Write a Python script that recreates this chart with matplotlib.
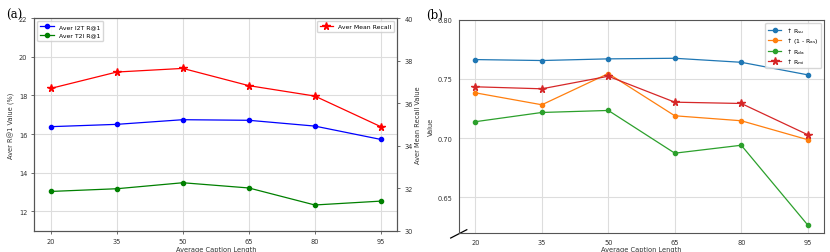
import matplotlib
matplotlib.use("Agg")
import matplotlib.pyplot as plt

# ---- data ----
caption_len = [20, 35, 50, 65, 80, 95]
i2t_r1 = [16.38, 16.50, 16.74, 16.71, 16.41, 15.72]
t2i_r1 = [13.03, 13.17, 13.48, 13.21, 12.33, 12.53]
mean_recall = [36.69, 37.46, 37.63, 36.82, 36.33, 34.89]

r_su = [0.7663, 0.7655, 0.7669, 0.7674, 0.7640, 0.7534]
one_minus_r_as = [0.7382, 0.7281, 0.7545, 0.7188, 0.7146, 0.6986]
r_da = [0.7138, 0.7216, 0.7233, 0.6872, 0.6939, 0.6265]
r_mi = [0.7433, 0.7416, 0.7522, 0.7303, 0.7292, 0.7028]

xticks = [20, 35, 50, 65, 80, 95]

plt.rcParams['font.family'] = ['DejaVu Sans']
plt.rcParams['mathtext.fontset'] = 'dejavusans'
fs = 4.8
lfs = 4.4
spine_c = '#555555'
tick_c = '#333333'
ms_c = 3.0
ms_s = 5.5
lw = 0.9

fig = plt.figure(figsize=(8.3, 2.53), dpi=100)

def style(ax, ticklen=2.5):
    for s in ax.spines.values():
        s.set_color(spine_c)
        s.set_linewidth(0.8)
    ax.tick_params(labelsize=fs, colors=spine_c, labelcolor=tick_c, length=ticklen,
                   width=0.6, pad=2.5)

# ---- panel (a) ----
ax1 = fig.add_axes([0.0413, 0.0842, 0.4374, 0.8407])
ax1.plot(caption_len, i2t_r1, color='blue', marker='o', markersize=ms_c, lw=lw, label='Aver I2T R@1')
ax1.plot(caption_len, t2i_r1, color='green', marker='o', markersize=ms_c, lw=lw, label='Aver T2I R@1')
ax1.set_ylim(11, 22)
ax1.set_yticks([12, 14, 16, 18, 20, 22])
ax1.set_xticks(xticks)
ax1.grid(True, color='#dddddd', lw=0.8)
ax1.set_axisbelow(True)
ax1.set_xlabel('Average Caption Length', fontsize=fs, labelpad=1.5, color=tick_c)
ax1.set_ylabel('Aver R@1 Value (%)', fontsize=fs, color=tick_c)
ax1.yaxis.set_label_coords(-0.053, 0.5)
style(ax1)
ax1.legend(loc='upper left', fontsize=lfs, frameon=True, handlelength=2.2,
           borderpad=0.5, labelspacing=0.5, borderaxespad=0.5)

ax2 = ax1.twinx()
ax2.plot(caption_len, mean_recall, color='red', marker='*', markersize=ms_s, lw=lw, label='Aver Mean Recall')
ax2.set_ylim(30, 40)
ax2.set_yticks([30, 32, 34, 36, 38, 40])
ax2.set_ylabel('Aver Mean Recall Value', fontsize=fs, color=tick_c)
ax2.yaxis.set_label_coords(1.049, 0.5)
style(ax2)
ax2.legend(loc='upper right', fontsize=lfs, frameon=True, handlelength=2.2,
           borderpad=0.5, borderaxespad=0.5)
fig.text(0.007, 0.937, '(a)', fontsize=8.5, family='DejaVu Serif', va='center')

# ---- panel (b) ----
ax3 = fig.add_axes([0.5527, 0.0763, 0.4405, 0.8419])
ax3.plot(caption_len, r_su, color='C0', marker='o', markersize=ms_c, lw=lw, label=r'↑ R$_{\mathrm{su}}$')
ax3.plot(caption_len, one_minus_r_as, color='C1', marker='o', markersize=ms_c, lw=lw, label=r'↑ (1 - R$_{\mathrm{as}}$)')
ax3.plot(caption_len, r_da, color='C2', marker='o', markersize=ms_c, lw=lw, label=r'↑ R$_{\mathrm{da}}$')
ax3.plot(caption_len, r_mi, color='C3', marker='*', markersize=ms_s, lw=lw, label=r'↑ R$_{\mathrm{mi}}$')
ax3.set_ylim(0.62, 0.80)
ax3.set_yticks([0.65, 0.70, 0.75, 0.80])
ax3.set_yticklabels(['0.65', '0.70', '0.75', '0.80'])
ax3.set_xticks(xticks)
ax3.grid(True, color='#dddddd', lw=0.8)
ax3.set_axisbelow(True)
ax3.set_xlabel('Average Caption Length', fontsize=fs, labelpad=1.0, color=tick_c)
ax3.set_ylabel('Value', fontsize=fs, color=tick_c)
ax3.yaxis.set_label_coords(-0.068, 0.5)
style(ax3, ticklen=0)
ax3.tick_params(pad=4.5)
ax3.legend(loc='upper right', fontsize=lfs, frameon=True, handlelength=2.2,
           borderpad=0.4, labelspacing=0.05, borderaxespad=0.5)
# broken-axis marker at lower left
d = 0.022
ax3.plot([-d, d], [-0.025, 0.014], transform=ax3.transAxes, color='k', lw=0.9, clip_on=False)
fig.text(0.513, 0.938, '(b)', fontsize=8.5, family='DejaVu Serif', va='center')

fig.savefig('out.png', dpi=100)
